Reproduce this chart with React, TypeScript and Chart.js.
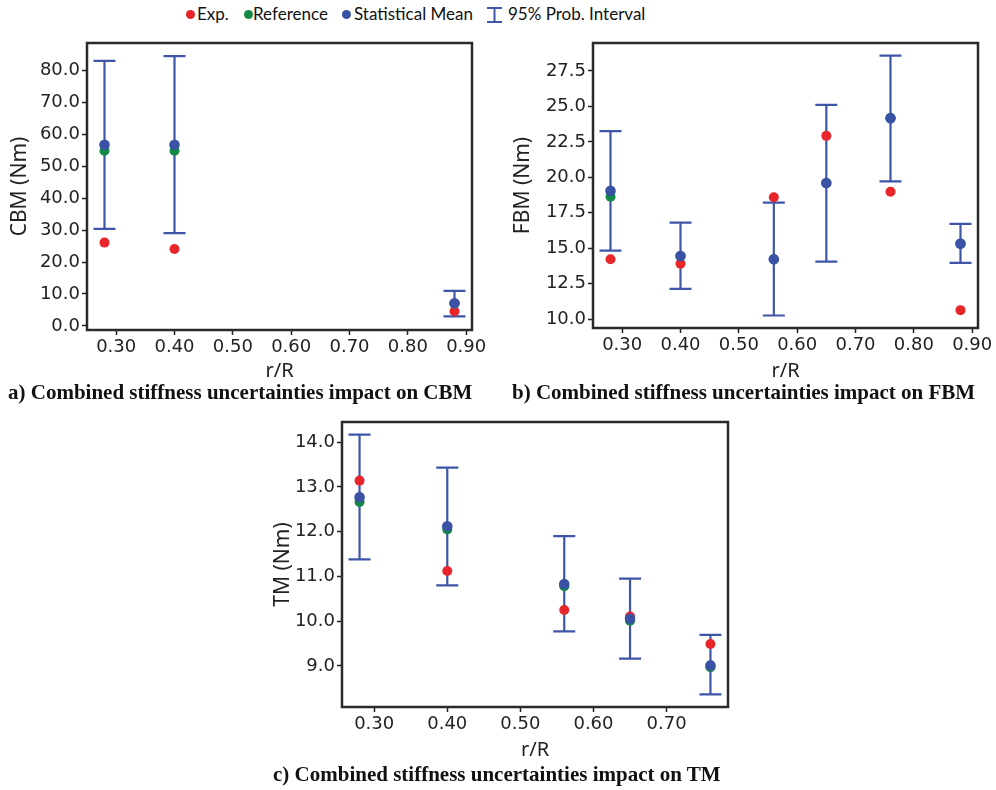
import React, { useEffect, useRef } from "react";
import { Chart, registerables } from "chart.js";

Chart.register(...registerables);

// ---------- Data ----------
// Panel a: CBM
const xA = [0.28, 0.4, 0.88];
const expA = [26.1, 24.1, 4.6];
const refA = [54.9, 54.9, 7.0];
const meanA = [56.8, 56.8, 7.1];
const loA = [30.4, 29.1, 3.0];
const hiA = [83.1, 84.6, 11.0];
const yTicksA = [0, 10, 20, 30, 40, 50, 60, 70, 80];
const xTicksAB = [0.3, 0.4, 0.5, 0.6, 0.7, 0.8, 0.9];

// Panel b: FBM
const xB = [0.28, 0.4, 0.56, 0.65, 0.76, 0.88];
const expB = [14.22, 13.91, 18.59, 22.92, 18.98, 10.63];
const refB = [18.63, 14.45, 14.22, 19.59, 24.17, 15.32];
const meanB = [19.05, 14.45, 14.22, 19.59, 24.17, 15.32];
const loB = [14.83, 12.13, 10.25, 14.05, 19.71, 13.96];
const hiB = [23.25, 16.8, 18.21, 25.1, 28.58, 16.71];
const yTicksB = [10, 12.5, 15, 17.5, 20, 22.5, 25, 27.5];

// Panel c: TM
const xC = [0.28, 0.4, 0.56, 0.65, 0.76];
const expC = [13.14, 11.12, 10.25, 10.1, 9.49];
const refC = [12.66, 12.05, 10.78, 10.01, 8.97];
const meanC = [12.77, 12.12, 10.83, 10.05, 9.01];
const loC = [11.38, 10.8, 9.77, 9.16, 8.36];
const hiC = [14.17, 13.43, 11.9, 10.95, 9.69];
const yTicksC = [9, 10, 11, 12, 13, 14];
const xTicksC = [0.3, 0.4, 0.5, 0.6, 0.7];

const legendLabels = ["Exp.", "Reference", "Statistical Mean", "95% Prob. Interval"];
const captions = [
  "a) Combined stiffness uncertainties impact on CBM",
  "b) Combined stiffness uncertainties impact on FBM",
  "c) Combined stiffness uncertainties impact on TM",
];

const RED = "#e8252b";
const GREEN = "#128a46";
const BLUE = "#3a52a3";
const BAR = "#3f55a8";
const INK = "#222222";

const errorBarPlugin = {
  id: "errorBars",
  beforeDatasetsDraw(chart: any, _args: any, opts: any) {
    const { ctx, scales } = chart;
    const xs: number[] = opts.xs || [];
    ctx.save();
    ctx.strokeStyle = BAR;
    ctx.lineWidth = 2.2;
    xs.forEach((xv, i) => {
      const x = scales.x.getPixelForValue(xv);
      const y1 = scales.y.getPixelForValue(opts.lo[i]);
      const y2 = scales.y.getPixelForValue(opts.hi[i]);
      ctx.beginPath();
      ctx.moveTo(x, y1);
      ctx.lineTo(x, y2);
      ctx.moveTo(x - 11, y1);
      ctx.lineTo(x + 11, y1);
      ctx.moveTo(x - 11, y2);
      ctx.lineTo(x + 11, y2);
      ctx.stroke();
    });
    ctx.restore();
  },
};

const boxPlugin = {
  id: "frameBox",
  afterDraw(chart: any) {
    const { ctx, chartArea: a } = chart;
    ctx.save();
    ctx.strokeStyle = "#2a2a2a";
    ctx.lineWidth = 2.5;
    ctx.strokeRect(a.left, a.top, a.right - a.left, a.bottom - a.top);
    ctx.restore();
  },
};

type PanelProps = {
  left: number;
  top: number;
  width: number;
  height: number;
  xs: number[];
  exp: number[];
  ref: number[];
  mean: number[];
  lo: number[];
  hi: number[];
  xTicks: number[];
  yTicks: number[];
  xMin: number;
  xMax: number;
  yMin: number;
  yMax: number;
  yTitle: string;
  yAxisW: number;
  xAxisH: number;
  padTop: number;
  padRight: number;
  yTitlePad: number;
  xTitlePad: number;
};

function Panel(p: PanelProps) {
  const ref = useRef<HTMLCanvasElement>(null);
  useEffect(() => {
    if (!ref.current) return;
    const pts = (ys: number[]) => p.xs.map((x, i) => ({ x, y: ys[i] }));
    const tickFont = { family: "'DejaVu Sans'", size: 18 };
    const titleFont = { family: "'Noto Sans'", size: 21 };
    const chart = new Chart(ref.current, {
      type: "scatter",
      data: {
        datasets: [
          { label: "Exp.", data: pts(p.exp), backgroundColor: RED, pointRadius: 5, borderWidth: 0, order: 3 },
          { label: "Reference", data: pts(p.ref), backgroundColor: GREEN, pointRadius: 5, borderWidth: 0, order: 2 },
          { label: "Statistical Mean", data: pts(p.mean), backgroundColor: BLUE, pointRadius: 5.3, borderWidth: 0, order: 1 },
        ],
      },
      options: {
        animation: false,
        responsive: false,
        maintainAspectRatio: false,
        layout: { padding: { top: p.padTop, right: p.padRight, left: 0, bottom: 0 } },
        plugins: {
          legend: { display: false },
          tooltip: { enabled: false },
          errorBars: { xs: p.xs, lo: p.lo, hi: p.hi },
        } as any,
        scales: {
          x: {
            type: "linear",
            min: p.xMin,
            max: p.xMax,
            afterBuildTicks: (s: any) => {
              s.ticks = p.xTicks.map((v) => ({ value: v }));
            },
            afterFit: (s: any) => {
              s.height = p.xAxisH;
            },
            ticks: {
              font: tickFont,
              color: INK,
              padding: 2,
              maxRotation: 0,
              autoSkip: false,
              callback: (v: any) => Number(v).toFixed(2),
            },
            grid: { drawOnChartArea: false, drawTicks: true, tickLength: 5, tickColor: INK, tickWidth: 1.5 },
            border: { display: false },
            title: { display: true, text: "r/R", font: { family: "'Noto Sans'", size: 20 }, color: INK, padding: { top: 0, bottom: p.xTitlePad } },
          },
          y: {
            type: "linear",
            min: p.yMin,
            max: p.yMax,
            afterBuildTicks: (s: any) => {
              s.ticks = p.yTicks.map((v) => ({ value: v }));
            },
            afterFit: (s: any) => {
              s.width = p.yAxisW;
            },
            ticks: {
              font: tickFont,
              color: INK,
              padding: 2,
              autoSkip: false,
              callback: (v: any) => Number(v).toFixed(1),
            },
            grid: { drawOnChartArea: false, drawTicks: true, tickLength: 5, tickColor: INK, tickWidth: 1.5 },
            border: { display: false },
            title: { display: true, text: p.yTitle, font: titleFont, color: INK, padding: { top: p.yTitlePad, bottom: 0 } },
          },
        },
      },
      plugins: [errorBarPlugin, boxPlugin],
    } as any);
    return () => chart.destroy();
  }, []);
  return (
    <canvas
      ref={ref}
      width={p.width}
      height={p.height}
      style={{ position: "absolute", left: p.left, top: p.top, width: p.width, height: p.height }}
    />
  );
}

const legendFont = "'Lato', 'Noto Sans', sans-serif";

function Dot({ color, left }: { color: string; left: number }) {
  return (
    <div
      style={{
        position: "absolute",
        left: left - 4.5,
        top: 10,
        width: 9,
        height: 9,
        borderRadius: "50%",
        background: color,
      }}
    />
  );
}

function LegendText({ left, text }: { left: number; text: string }) {
  return (
    <div
      style={{
        position: "absolute",
        left,
        top: 3,
        fontFamily: legendFont,
        fontSize: 17,
        lineHeight: "22px",
        color: "#111",
        whiteSpace: "nowrap",
      }}
    >
      {text}
    </div>
  );
}

function Caption({ left, top, text }: { left: number; top: number; text: string }) {
  return (
    <div
      style={{
        position: "absolute",
        left,
        top,
        fontFamily: "'Liberation Serif', 'Times New Roman', serif",
        fontWeight: "bold",
        fontSize: 21,
        lineHeight: "24px",
        color: "#111",
        whiteSpace: "nowrap",
      }}
    >
      {text}
    </div>
  );
}

export default function App() {
  return (
    <div style={{ position: "absolute", left: 0, top: 0, width: 996, height: 790, background: "#fff", overflow: "hidden" }}>
      {/* Legend */}
      <Dot color={RED} left={190.7} />
      <LegendText left={197} text={legendLabels[0]} />
      <Dot color={GREEN} left={248.3} />
      <LegendText left={253} text={legendLabels[1]} />
      <Dot color={BLUE} left={346} />
      <LegendText left={354} text={legendLabels[2]} />
      <svg style={{ position: "absolute", left: 486, top: 6, width: 18, height: 18 }} width={18} height={18}>
        <line x1={1} y1={2} x2={16} y2={2} stroke={BAR} strokeWidth={2} />
        <line x1={1} y1={16} x2={16} y2={16} stroke={BAR} strokeWidth={2} />
        <line x1={8.5} y1={2} x2={8.5} y2={16} stroke={BAR} strokeWidth={2} />
      </svg>
      <LegendText left={508} text={legendLabels[3]} />

      <Panel
        left={0}
        top={30}
        width={495}
        height={360}
        xs={xA}
        exp={expA}
        ref={refA}
        mean={meanA}
        lo={loA}
        hi={hiA}
        xTicks={xTicksAB}
        yTicks={yTicksA}
        xMin={0.25}
        xMax={0.91}
        yMin={-1.3}
        yMax={88.7}
        yTitle="CBM (Nm)"
        yAxisW={87}
        xAxisH={60}
        padTop={13}
        padRight={23}
        yTitlePad={7.4}
        xTitlePad={6.3}
      />
      <Panel
        left={505}
        top={30}
        width={490}
        height={360}
        xs={xB}
        exp={expB}
        ref={refB}
        mean={meanB}
        lo={loB}
        hi={hiB}
        xTicks={xTicksAB}
        yTicks={yTicksB}
        xMin={0.25}
        xMax={0.91}
        yMin={9.37}
        yMax={29.47}
        yTitle="FBM (Nm)"
        yAxisW={88}
        xAxisH={62}
        padTop={13}
        padRight={17}
        yTitlePad={5.7}
        xTitlePad={6.3}
      />
      <Panel
        left={255}
        top={408}
        width={490}
        height={360}
        xs={xC}
        exp={expC}
        ref={refC}
        mean={meanC}
        lo={loC}
        hi={hiC}
        xTicks={xTicksC}
        yTicks={yTicksC}
        xMin={0.256}
        xMax={0.784}
        yMin={8.08}
        yMax={14.45}
        yTitle="TM (Nm)"
        yAxisW={87}
        xAxisH={61}
        padTop={14}
        padRight={17}
        yTitlePad={15.1}
        xTitlePad={6.0}
      />

      <Caption left={8} top={380} text={captions[0]} />
      <Caption left={512} top={380} text={captions[1]} />
      <Caption left={273} top={762} text={captions[2]} />
    </div>
  );
}
